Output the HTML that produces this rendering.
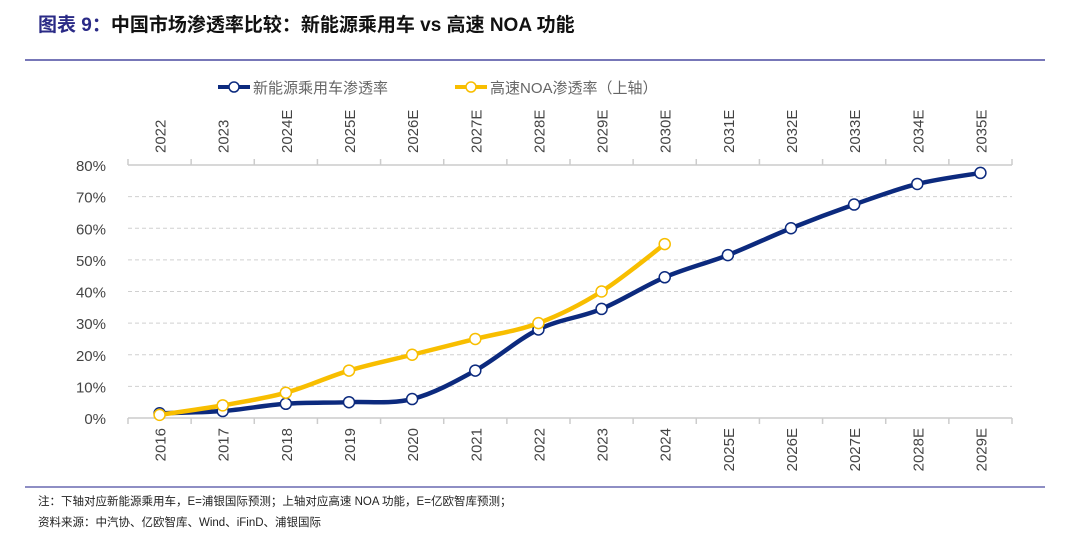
<!DOCTYPE html>
<html><head><meta charset="utf-8"><style>
body{margin:0;width:1080px;height:540px;background:#fff;overflow:hidden;font-family:"Liberation Sans","Noto Sans CJK SC",sans-serif}
</style></head><body>
<svg width="1080" height="540" xmlns="http://www.w3.org/2000/svg">
<text x="38" y="31" font-size="19" font-weight="bold" fill="#2a2a86" font-family="Liberation Sans,Noto Sans CJK SC,sans-serif">图表 9：<tspan fill="#111">中国市场渗透率比较：新能源乘用车 vs 高速 NOA 功能</tspan></text>
<line x1="25" y1="60" x2="1045" y2="60" stroke="#4a4aa0" stroke-width="1.5"/>
<line x1="25" y1="487" x2="1045" y2="487" stroke="#4a4aa0" stroke-width="1.2"/>
<text x="38" y="505" font-size="11.5" fill="#222">注：下轴对应新能源乘用车，E=浦银国际预测；上轴对应高速 NOA 功能，E=亿欧智库预测；</text>
<text x="38" y="526" font-size="11.5" fill="#222">资料来源：中汽协、亿欧智库、Wind、iFinD、浦银国际</text>
<g>
<g><line x1="218" y1="87" x2="250" y2="87" stroke="#0c2a7e" stroke-width="4"/><circle cx="234" cy="87" r="5" fill="#fff" stroke="#0c2a7e" stroke-width="1.5"/><text x="253" y="93" font-size="15" fill="#666">新能源乘用车渗透率</text></g>
<g><line x1="455" y1="87" x2="487" y2="87" stroke="#f8be00" stroke-width="4"/><circle cx="471" cy="87" r="5" fill="#fff" stroke="#f8be00" stroke-width="1.5"/><text x="490" y="93" font-size="15" fill="#666">高速NOA渗透率（上轴）</text></g>
</g>
<g id="plot"></g>
</svg>
<script>
const bottomCats=["2016","2017","2018","2019","2020","2021","2022","2023","2024","2025E","2026E","2027E","2028E","2029E"];
const topCats=["2022","2023","2024E","2025E","2026E","2027E","2028E","2029E","2030E","2031E","2032E","2033E","2034E","2035E"];
const nevValues=[1.5,2.2,4.5,5,6,15,28,34.5,44.5,51.5,60,67.5,74,77.5];
const noaValues=[1,4,8,15,20,25,30,40,55];
const yTicks=[0,10,20,30,40,50,60,70,80];
const L=128,R=1012,Y0=418,Y80=165,N=14,bw=(R-L)/N;
const x=i=>L+bw*(i+0.5);
const y=v=>Y0-(v/80)*(Y0-Y80);
const ns="http://www.w3.org/2000/svg",g=document.getElementById('plot');
function mk(t,a,p){const e=document.createElementNS(ns,t);for(const k in a)e.setAttribute(k,a[k]);(p||g).appendChild(e);return e;}
yTicks.forEach(v=>{
 if(v>0&&v<80){const l=mk('line',{x1:L,x2:R,y1:y(v),y2:y(v),stroke:'#d0d0d0','stroke-dasharray':'4 3'});}
 const t=mk('text',{x:106,y:y(v)+6,'font-size':15,fill:'#444','text-anchor':'end'});t.textContent=v+'%';
 
});
[Y0,Y80].forEach((yy,k)=>{
 const a=mk('line',{x1:L,x2:R,y1:yy,y2:yy,stroke:'#ccc','stroke-width':1.5});
 
 for(let i=0;i<=N;i++){mk('line',{x1:L+bw*i,x2:L+bw*i,y1:yy,y2:k?yy-6:yy+6,stroke:'#ccc','stroke-width':1.5});}
});
bottomCats.forEach((c,i)=>{const t=mk('text',{transform:`translate(${x(i)+6},${Y0+10}) rotate(-90)`,'font-size':15,fill:'#444','text-anchor':'end'});t.textContent=c;
 });
topCats.forEach((c,i)=>{const t=mk('text',{transform:`translate(${x(i)+6},${Y80-12}) rotate(-90)`,'font-size':15,fill:'#444'});t.textContent=c;
 });
function path(vals){const p=vals.map((v,i)=>[x(i),y(v)]);let d=`M${p[0][0]},${p[0][1]}`;
 for(let i=0;i<p.length-1;i++){const p0=p[i-1]||p[i],p1=p[i],p2=p[i+1],p3=p[i+2]||p2;
  d+=` C${p1[0]+(p2[0]-p0[0])/6},${p1[1]+(p2[1]-p0[1])/6} ${p2[0]-(p3[0]-p1[0])/6},${p2[1]-(p3[1]-p1[1])/6} ${p2[0]},${p2[1]}`;}return d;}
function series(vals,col,name){
 const s=mk('path',{d:path(vals),fill:'none',stroke:col,'stroke-width':4.5});
 
 vals.forEach((v,i)=>{const c=mk('circle',{cx:x(i),cy:y(v),r:5.5,fill:'#fff',stroke:col,'stroke-width':1.5});
  });
}
series(nevValues,'#0c2a7e','nev');
series(noaValues,'#f8be00','noa');
</script>
</body></html>
